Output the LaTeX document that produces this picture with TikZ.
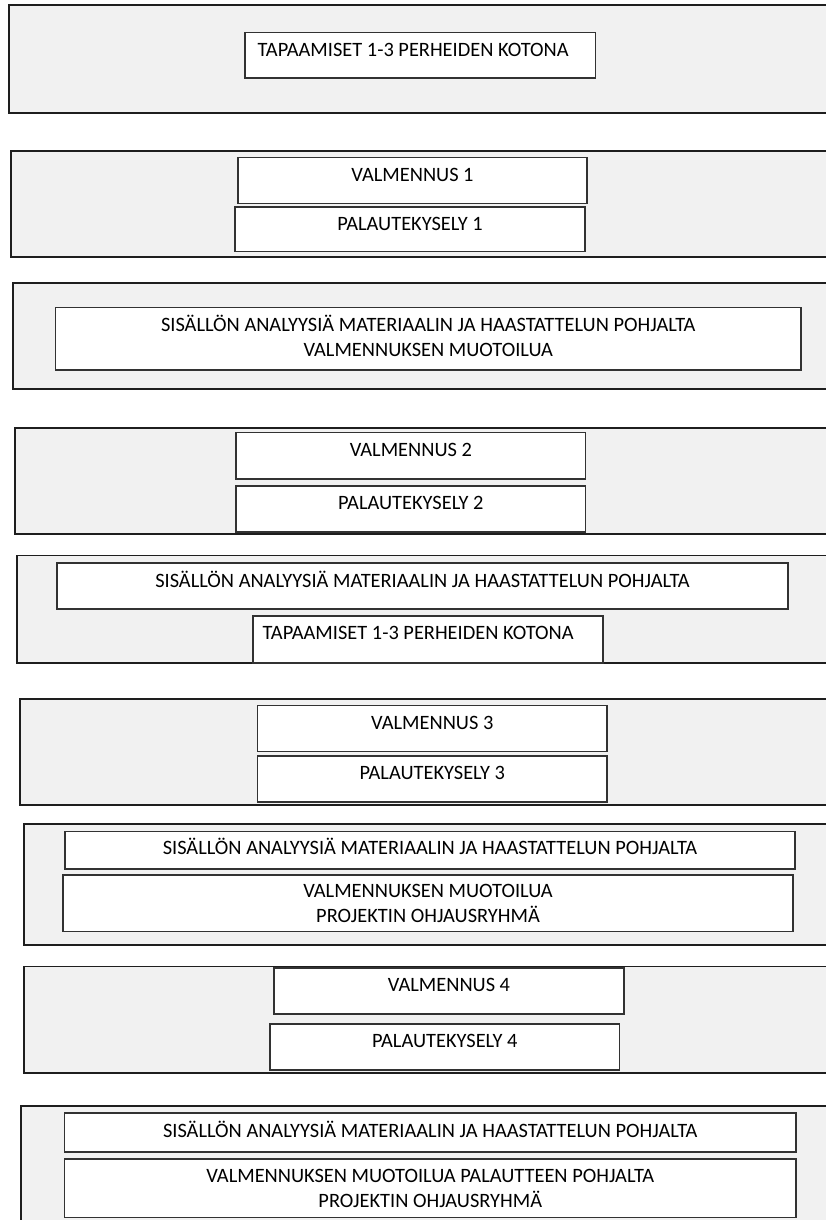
\documentclass[tikz,border=0pt]{standalone}
\usepackage{fontspec}
\setmainfont{Carlito}
\usetikzlibrary{fit,calc}
\definecolor{panelfill}{RGB}{241,241,241}
\definecolor{panelline}{RGB}{30,30,30}
\definecolor{boxline}{RGB}{50,50,50}
\tikzset{
  panel/.style={fill=panelfill, inner sep=0pt},
  paneledge/.style={draw=panelline, line width=1.8pt, line join=miter},
  inbox/.style={draw=boxline, line width=1.1pt, fill=white, inner sep=0pt},
  lbl/.style={inner sep=0pt, anchor=base, font=\fontsize{20.4}{24}\selectfont, text=black},
  lbll/.style={lbl, anchor=base west}
}
\begin{document}
\begin{tikzpicture}[x=1pt,y=-1pt]
\fill[white] (0,0) rectangle (826,1220);
\useasboundingbox (0,0) rectangle (826,1220);
% panels (open to the right, cut by the page edge)
\node[panel, fit={(9,5.3) (826,112.7)}] (o1) {};
\node[panel, fit={(11,151) (826,257)}] (o2) {};
\node[panel, fit={(13,283.3) (826,389)}] (o3) {};
\node[panel, fit={(14.8,428) (826,534)}] (o4) {};
\node[panel, fit={(17.5,555.7) (826,663)}] (o5) {};
\node[panel, fit={(20,699) (826,805)}] (o6) {};
\node[panel, fit={(24,824) (826,945)}] (o7) {};
\node[panel, fit={(24.3,966.7) (826,1072.7)}] (o8) {};
\node[panel, fit={(21,1106) (826,1220)}] (o9) {};
\foreach \p in {o1,o2,o3,o4,o5,o6,o7,o8}
  \draw[paneledge] (\p.north east) -- (\p.north west) -- (\p.south west) -- (\p.south east);
\draw[paneledge] (o9.north east) -- (o9.north west) -- (o9.south west);
% section 1
\node[inbox, fit={(245,32.3) (595.5,78)}] (t1) {};
\node[lbll] (t1l) at ($(t1.north west)+(13,24.4)$) {TAPAAMISET 1-3 PERHEIDEN KOTONA};
% section 2
\node[inbox, fit={(238,157.7) (587,203.3)}] (v1) {};
\node[lbl] (v1l) at ($(v1.north)+(0,24.5)$) {VALMENNUS 1};
\node[inbox, fit={(235,207) (585,251.5)}] (p1) {};
\node[lbl] (p1l) at ($(p1.north)+(0,24.5)$) {PALAUTEKYSELY 1};
% section 3
\node[inbox, fit={(55.5,307.3) (801,370)}] (s3) {};
\node[lbl] (s3a) at ($(s3.north)+(0,25)$) {SISÄLLÖN ANALYYSIÄ MATERIAALIN JA HAASTATTELUN POHJALTA};
\node[lbl] (s3b) at ($(s3.north)+(0,49.7)$) {VALMENNUKSEN MUOTOILUA};
% section 4
\node[inbox, fit={(236,432.7) (585.7,479)}] (v2) {};
\node[lbl] (v2l) at ($(v2.north)+(0,24.5)$) {VALMENNUS 2};
\node[inbox, fit={(236,486) (585.7,532)}] (p2) {};
\node[lbl] (p2l) at ($(p2.north)+(0,24.5)$) {PALAUTEKYSELY 2};
% section 5
\node[inbox, fit={(57,563) (788,609)}] (s5) {};
\node[lbl] (s5l) at ($(s5.north)+(0,25)$) {SISÄLLÖN ANALYYSIÄ MATERIAALIN JA HAASTATTELUN POHJALTA};
\node[inbox, fit={(253,616) (603,663)}] (t5) {};
\node[lbll] (t5l) at ($(t5.north west)+(10,24.5)$) {TAPAAMISET 1-3 PERHEIDEN KOTONA};
% section 6
\node[inbox, fit={(257.6,705.7) (607,751.7)}] (v3) {};
\node[lbl] (v3l) at ($(v3.north)+(0,24.5)$) {VALMENNUS 3};
\node[inbox, fit={(257.6,756) (607,802)}] (p3) {};
\node[lbl] (p3l) at ($(p3.north)+(0,24.5)$) {PALAUTEKYSELY 3};
% section 7
\node[inbox, fit={(65,831.7) (795,869)}] (s7) {};
\node[lbl] (s7l) at ($(s7.north)+(0,23.8)$) {SISÄLLÖN ANALYYSIÄ MATERIAALIN JA HAASTATTELUN POHJALTA};
\node[inbox, fit={(63,875) (793,931.7)}] (m7) {};
\node[lbl] (m7a) at ($(m7.north)+(0,23.3)$) {VALMENNUKSEN MUOTOILUA};
\node[lbl] (m7b) at ($(m7.north)+(0,48.3)$) {PROJEKTIN OHJAUSRYHMÄ};
% section 8
\node[inbox, fit={(274,968) (624,1014)}] (v4) {};
\node[lbl] (v4l) at ($(v4.north)+(0,24.5)$) {VALMENNUS 4};
\node[inbox, fit={(270,1024) (619.6,1070)}] (p4) {};
\node[lbl] (p4l) at ($(p4.north)+(0,24.5)$) {PALAUTEKYSELY 4};
% section 9
\node[inbox, fit={(64.5,1113) (796,1152)}] (s9) {};
\node[lbl] (s9l) at ($(s9.north)+(0,25)$) {SISÄLLÖN ANALYYSIÄ MATERIAALIN JA HAASTATTELUN POHJALTA};
\node[inbox, fit={(64.5,1159) (796,1217.7)}] (m9) {};
\node[lbl] (m9a) at ($(m9.north)+(0,24.5)$) {VALMENNUKSEN MUOTOILUA PALAUTTEEN POHJALTA};
\node[lbl] (m9b) at ($(m9.north)+(0,49.5)$) {PROJEKTIN OHJAUSRYHMÄ};
\end{tikzpicture}
\end{document}
